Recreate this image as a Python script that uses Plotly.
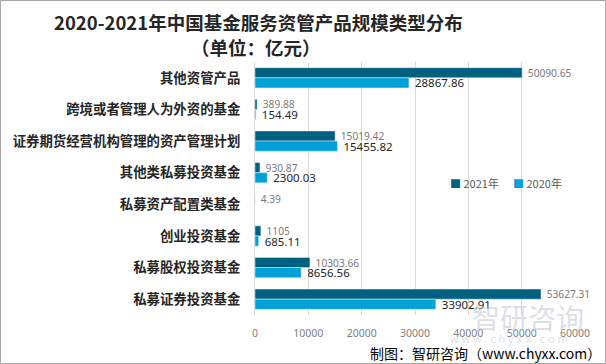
import plotly.graph_objects as go

categories = ["其他资管产品", "跨境或者管理人为外资的基金", "证券期货经营机构管理的资产管理计划",
              "其他类私募投资基金", "私募资产配置类基金", "创业投资基金", "私募股权投资基金", "私募证券投资基金"]
values_2021 = [50090.65, 389.88, 15019.42, 930.87, 4.39, 1105, 10303.66, 53627.31]
values_2020 = [28867.86, 154.49, 15455.82, 2300.03, None, 685.11, 8656.56, 33902.91]
labels_2021 = ["50090.65", "389.88", "15019.42", "930.87", "4.39", "1105", "10303.66", "53627.31"]
labels_2020 = ["28867.86", "154.49", "15455.82", "2300.03", "", "685.11", "8656.56", "33902.91"]
x_ticks = [0, 10000, 20000, 30000, 40000, 50000, 60000]
series_names = ["2021年", "2020年"]
colors = ["#00607F", "#00A1D8"]

W, H = 606, 364
L, R, T, B = 255, 31, 62, 49
pw, ph = W - L - R, H - T - B


def px_x(x):
    return (x - L) / pw


def px_y(y):
    return (H - B - y) / ph


fig = go.Figure()
fig.add_trace(go.Bar(
    y=categories, x=values_2021, orientation="h", name=series_names[0],
    marker_color=colors[0], text=labels_2021, texttemplate="\u00a0%{text}",
    textposition="outside", constraintext="none",
    textfont=dict(size=10.2, color="#7a7a7a", family="Noto Sans"), cliponaxis=False,
))
fig.add_trace(go.Bar(
    y=categories, x=values_2020, orientation="h", name=series_names[1],
    marker_color=colors[1], text=labels_2020, texttemplate="\u00a0%{text}",
    textposition="outside", constraintext="none",
    textfont=dict(size=11.5, color="#262626", family="Noto Sans"), cliponaxis=False,
))

fig.add_shape(type="rect", xref="paper", yref="paper",
              x0=px_x(0.5), x1=px_x(W - 0.5), y0=px_y(H - 0.5), y1=px_y(0.5),
              line=dict(color="#a6a6a6", width=1), layer="below")

# title
fig.add_annotation(xref="paper", yref="paper", x=px_x(258), y=px_y(22),
                   xanchor="center", yanchor="middle",
                   text="<b>2020-2021年中国基金服务资管产品规模类型分布</b>", showarrow=False,
                   font=dict(size=18.5, color="#262626", family="Noto Sans CJK SC"))
fig.add_annotation(xref="paper", yref="paper", x=px_x(256), y=px_y(47),
                   xanchor="center", yanchor="middle",
                   text="<b>（单位：亿元）</b>", showarrow=False,
                   font=dict(size=18.5, color="#262626", family="Noto Sans CJK SC"))

# legend
for i, (nm, c) in enumerate(zip(series_names, colors)):
    fig.add_annotation(xref="paper", yref="paper", x=px_x(448 + 63 * i), y=px_y(183),
                       xanchor="left", yanchor="middle", showarrow=False,
                       text=f'<span style="color:{c}">■</span> {nm}',
                       font=dict(size=11, color="#595959", family="Noto Sans CJK SC"))

# watermark
fig.add_annotation(xref="paper", yref="paper", x=px_x(528), y=px_y(317),
                   xanchor="center", yanchor="middle", text="智研咨询", showarrow=False,
                   font=dict(size=28, color="rgba(185,192,200,0.5)", family="Noto Sans CJK SC"))
fig.add_annotation(xref="paper", yref="paper", x=px_x(509), y=px_y(338),
                   xanchor="center", yanchor="middle",
                   text="w w w . c h y x x . c o m", showarrow=False,
                   font=dict(size=11, color="rgba(185,192,200,0.5)", family="Noto Sans"))
# footer
fig.add_annotation(xref="paper", yref="paper", x=px_x(603), y=px_y(353),
                   xanchor="right", yanchor="middle", text="制图：智研咨询（www.chyxx.com）",
                   showarrow=False,
                   font=dict(size=14, color="#000000", family="Noto Sans CJK SC"))

fig.update_layout(
    width=W, height=H, margin=dict(l=L, r=R, t=T, b=B, autoexpand=False),
    paper_bgcolor="white", plot_bgcolor="white",
    barmode="group", bargap=0.36, bargroupgap=0,
    showlegend=False,
    font=dict(family="Noto Sans CJK SC"),
)
fig.update_xaxes(range=[0, 60000], tickvals=x_ticks, ticktext=[str(v) for v in x_ticks],
                 showgrid=True, gridcolor="#d9d9d9", gridwidth=1, zeroline=False, automargin=False,
                 tickfont=dict(size=10.5, color="#7f7f7f", family="Noto Sans"), ticklabelstandoff=10)
fig.update_yaxes(autorange="reversed", showline=True, linecolor="#d9d9d9", linewidth=1,
                 showgrid=False, ticks="", ticklabelstandoff=11, automargin=False,
                 tickfont=dict(size=13.4, color="#262626", family="Noto Sans CJK SC", weight="bold"))

fig.write_html("out.html", config={"displayModeBar": False},
               post_script="document.body.style.margin='0px';")
